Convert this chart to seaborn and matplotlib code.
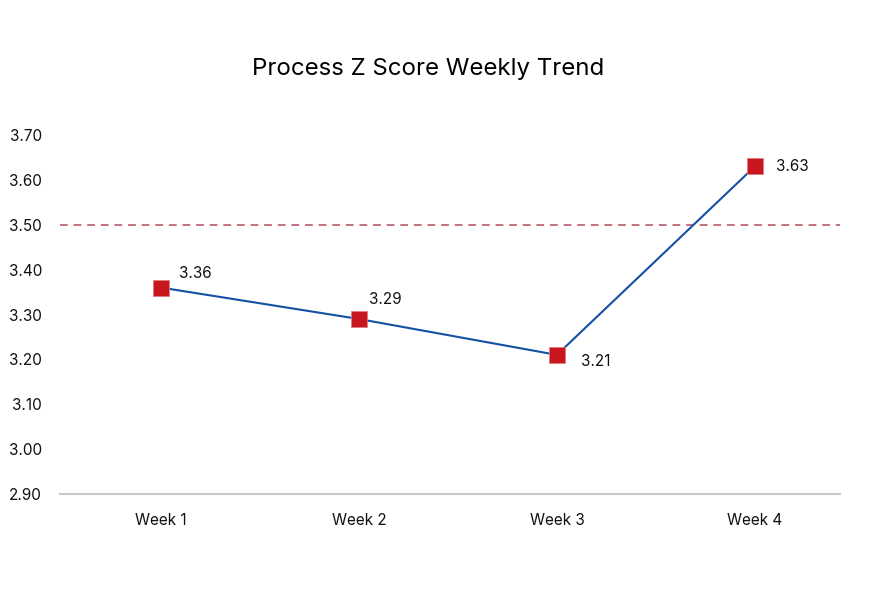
import pandas as pd
import seaborn as sns
import matplotlib.pyplot as plt

# Dados do gráfico
semanas = ['Week 1', 'Week 2', 'Week 3', 'Week 4']
z_scores = [3.36, 3.29, 3.21, 3.63]
limite = 3.50
y_ticks = [2.90, 3.00, 3.10, 3.20, 3.30, 3.40, 3.50, 3.60, 3.70]

# Posição dos rótulos (deslocamento em pontos)
deslocamentos = [(13, 10), (7, 14), (17, -5), (15, 0)]

sns.set_theme(style='white')
plt.rcParams['font.family'] = ['Inter', 'DejaVu Sans']

df = pd.DataFrame({'semana': semanas, 'z': z_scores})
df['pos'] = range(len(df))

fig = plt.figure(figsize=(8.77, 5.96), dpi=100)
ax = fig.add_axes([60 / 877, 102 / 596, 780 / 877, 359 / 596])

# Linha de referência
ax.axhline(limite, color='#c4727e', linestyle=(0, (4, 3)), linewidth=1.4, zorder=1)

sns.lineplot(data=df, x='pos', y='z', ax=ax, color='#1450a3', linewidth=1.5,
             marker='s', markersize=11.5, markerfacecolor='#c8161e',
             markeredgecolor='#e07a80', markeredgewidth=0.6, zorder=3)

for i, (v, d) in enumerate(zip(z_scores, deslocamentos)):
    ax.annotate(f'{v:.2f}', (i, v), xytext=d, textcoords='offset points',
                ha='left', va='center', fontsize=11, color='#111111')

ax.set_xlim(-0.51, 3.43)
ax.set_ylim(2.90, 3.70)
ax.set_xticks(range(len(semanas)))
ax.set_xticklabels(semanas, fontsize=11, color='#111111')
ax.set_yticks(y_ticks)
ax.set_yticklabels([f'{t:.2f}' for t in y_ticks], fontsize=11, color='#111111')
ax.tick_params(axis='both', length=0)
ax.tick_params(axis='y', pad=13)
ax.tick_params(axis='x', pad=14)
ax.set_xlabel('')
ax.set_ylabel('')

for lado in ['top', 'right', 'left']:
    ax.spines[lado].set_visible(False)
ax.spines['bottom'].set_color('#c8c8c8')
ax.spines['bottom'].set_linewidth(1.5)
ax.set_clip_on(False)

fig.text(428 / 877, 1 - 69 / 596, 'Process Z Score Weekly Trend', ha='center', va='center',
         fontsize=17.3, color='#000000')

plt.savefig('out.png', dpi=100)
plt.close()
